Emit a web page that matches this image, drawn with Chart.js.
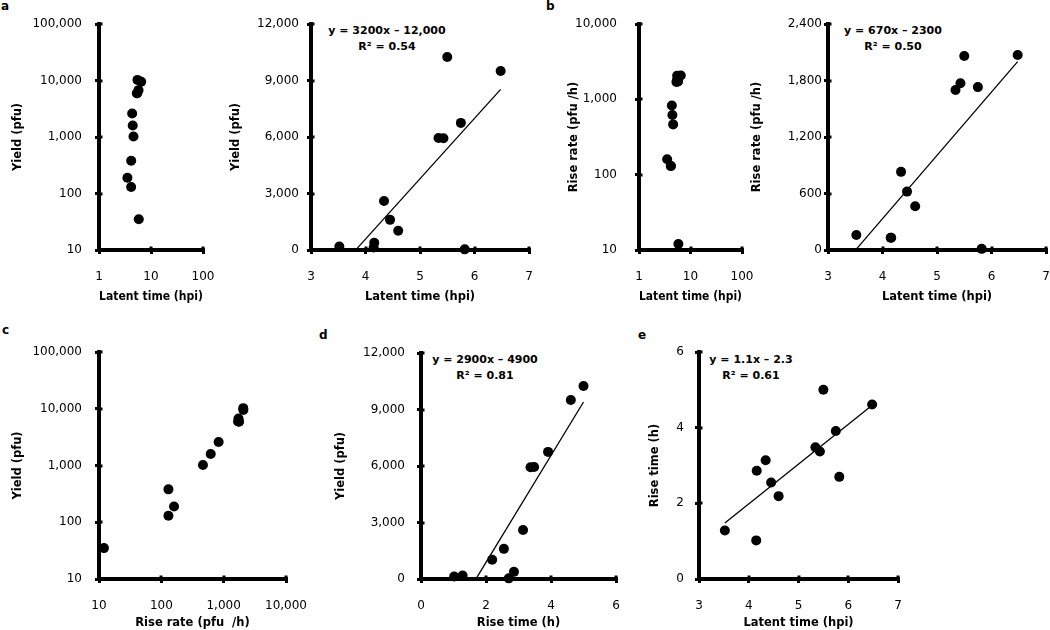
<!DOCTYPE html>
<html>
<head>
<meta charset="utf-8">
<script src="https://cdn.jsdelivr.net/npm/chart.js@4.4.0/dist/chart.umd.min.js"></script>
<style>
  body { margin: 0; width: 1050px; height: 630px; overflow: hidden; background: #fff; position: relative; font-family: 'DejaVu Sans', sans-serif; }
  canvas { position: absolute; }
  .lbl { position: absolute; font-weight: bold; font-size: 12px; line-height: 12px; }
  .eq { position: absolute; width: 160px; text-align: center; font-weight: bold; font-size: 11px; line-height: 16px; }
</style>
</head>
<body>

<div class="lbl" style="left:1px;top:0px">a</div>
<div class="lbl" style="left:546px;top:0px">b</div>
<div class="lbl" style="left:2px;top:324px">c</div>
<div class="lbl" style="left:319px;top:329px">d</div>
<div class="lbl" style="left:638px;top:329px">e</div>

<div class="eq" style="left:307px;top:23px">y = 3200x – 12,000<br>R² = 0.54</div>
<div class="eq" style="left:813px;top:23px">y = 670x – 2300<br>R² = 0.50</div>
<div class="eq" style="left:405px;top:352px">y = 2900x – 4900<br>R² = 0.81</div>
<div class="eq" style="left:671px;top:352px">y = 1.1x – 2.3<br>R² = 0.61</div>

<script>
// valeurs (12 souches)
const latentTime = [3.52, 4.15, 4.16, 4.34, 4.45, 4.60, 5.34, 5.43, 5.50, 5.75, 5.82, 6.48];
const yieldPfu   = [190, 130, 380, 2600, 1600, 1020, 5950, 5930, 10250, 6750, 35, 9500];
const riseRate   = [160, 130, 130, 830, 620, 465, 1700, 1770, 2060, 1730, 12, 2070];
const riseTime   = [1.28, 1.02, 2.86, 3.14, 2.55, 2.19, 3.48, 3.37, 5.00, 3.91, 2.70, 4.61];

// droites de tendance (extremites lues)
const fitYieldLatentX = [3.83, 6.48];
const fitYieldLatentY = [30, 8530];
const fitRateLatentX = [3.52, 6.48];
const fitRateLatentY = [10, 2000];
const fitYieldRiseX = [1.72, 5.0];
const fitYieldRiseY = [90, 9400];
const fitRiseLatentX = [3.52, 6.43];
const fitRiseLatentY = [1.48, 4.54];

// graduations
const logLatentTicks = [1, 10, 100];
const yieldLogTicks = [10, 100, 1000, 10000, 100000];
const rateLogTicks = [10, 100, 1000, 10000];
const latentTicks = [3, 4, 5, 6, 7];
const yieldTicks = [0, 3000, 6000, 9000, 12000];
const rateTicks = [0, 600, 1200, 1800, 2400];
const riseTimeTicks = [0, 2, 4, 6];

Chart.defaults.font.family = "'DejaVu Sans', sans-serif";
Chart.defaults.color = '#000';

function pts(xs, ys) {
  return xs.map((x, i) => ({ x: x, y: ys[i] }));
}

// petites marques qui depassent aussi vers l'interieur de l'axe
const innerTicks = {
  id: 'innerTicks',
  afterDraw(chart) {
    const ctx = chart.ctx;
    const a = chart.chartArea;
    ctx.save();
    ctx.strokeStyle = '#000';
    ctx.lineWidth = 3;
    ctx.beginPath();
    chart.scales.x.ticks.forEach(t => {
      const px = Math.round(chart.scales.x.getPixelForValue(t.value));
      ctx.moveTo(px, a.bottom);
      ctx.lineTo(px, a.bottom - 3.5);
    });
    chart.scales.y.ticks.forEach(t => {
      const py = Math.round(chart.scales.y.getPixelForValue(t.value));
      ctx.moveTo(a.left, py);
      ctx.lineTo(a.left + 3.5, py);
    });
    ctx.stroke();
    ctx.restore();
  }
};

function scaleOpts(vals, isLog, title, pad, size, horiz) {
  return {
    type: isLog ? 'logarithmic' : 'linear',
    min: vals[0],
    max: vals[vals.length - 1],
    afterBuildTicks: (s) => { s.ticks = vals.map(v => ({ value: v })); },
    afterFit: (s) => {
      if (horiz) s.height = size; else s.width = size;
      s.paddingLeft = 0; s.paddingRight = 0; s.paddingTop = 0; s.paddingBottom = 0;
    },
    border: { display: true, color: '#000', width: 4 },
    grid: { display: true, drawOnChartArea: false, drawTicks: true, tickLength: 4, lineWidth: 3, color: '#000' },
    ticks: {
      autoSkip: false, maxRotation: 0, padding: pad, color: '#000',
      font: { size: 12 },
      callback: (v) => Number(v).toLocaleString('en-US')
    },
    title: { display: true, text: title, color: '#000', font: { size: 11.5, weight: 'bold' }, padding: 0 }
  };
}

const panels = [
  { area: { l: 99, r: 203, t: 24, b: 250 }, yTitleX: 18, xH: 54, yPad: 13,
    x: { vals: logLatentTicks, log: true, data: latentTime, title: 'Latent time (hpi)' },
    y: { vals: yieldLogTicks, log: true, data: yieldPfu, title: 'Yield (pfu)' } },
  { area: { l: 311, r: 529, t: 24, b: 250 }, yTitleX: 236, xH: 54, yPad: 8,
    x: { vals: latentTicks, log: false, data: latentTime, title: 'Latent time (hpi)' },
    y: { vals: yieldTicks, log: false, data: yieldPfu, title: 'Yield (pfu)' },
    fit: [fitYieldLatentX, fitYieldLatentY] },
  { area: { l: 639, r: 742, t: 24, b: 250 }, yTitleX: 574, xH: 54, yPad: 18,
    x: { vals: logLatentTicks, log: true, data: latentTime, title: 'Latent time (hpi)' },
    y: { vals: rateLogTicks, log: true, data: riseRate, title: 'Rise rate (pfu /h)' } },
  { area: { l: 828, r: 1046, t: 24, b: 250 }, yTitleX: 757, xH: 54, yPad: 2,
    x: { vals: latentTicks, log: false, data: latentTime, title: 'Latent time (hpi)' },
    y: { vals: rateTicks, log: false, data: riseRate, title: 'Rise rate (pfu /h)' },
    fit: [fitRateLatentX, fitRateLatentY] },
  { area: { l: 99, r: 286, t: 352, b: 579 }, yTitleX: 18, xH: 51, yPad: 13,
    x: { vals: rateLogTicks, log: true, data: riseRate, title: 'Rise rate (pfu  /h)' },
    y: { vals: yieldLogTicks, log: true, data: yieldPfu, title: 'Yield (pfu)' } },
  { area: { l: 421, r: 616, t: 353, b: 579 }, yTitleX: 341, xH: 51, yPad: 12,
    x: { vals: riseTimeTicks, log: false, data: riseTime, title: 'Rise time (h)' },
    y: { vals: yieldTicks, log: false, data: yieldPfu, title: 'Yield (pfu)' },
    fit: [fitYieldRiseX, fitYieldRiseY] },
  { area: { l: 699, r: 898, t: 352, b: 579 }, yTitleX: 655, xH: 51, yPad: 11,
    x: { vals: latentTicks, log: false, data: latentTime, title: 'Latent time (hpi)' },
    y: { vals: riseTimeTicks, log: false, data: riseTime, title: 'Rise time (h)' },
    fit: [fitRiseLatentX, fitRiseLatentY] }
];

panels.forEach((p) => {
  const padTop = 12, padRight = 26;
  const left = p.yTitleX - 7;
  const top = p.area.t - padTop;
  const canvas = document.createElement('canvas');
  canvas.width = p.area.r + padRight - left;
  canvas.height = p.area.b + p.xH - top;
  canvas.style.left = left + 'px';
  canvas.style.top = top + 'px';
  document.body.appendChild(canvas);

  const datasets = [{
    data: pts(p.x.data, p.y.data),
    pointRadius: 5,
    pointBackgroundColor: '#000',
    pointBorderWidth: 0,
    clip: false
  }];
  if (p.fit) {
    datasets.push({
      data: pts(p.fit[0], p.fit[1]),
      showLine: true,
      pointRadius: 0,
      borderColor: '#000',
      borderWidth: 1.3,
      clip: false
    });
  }

  new Chart(canvas.getContext('2d'), {
    type: 'scatter',
    data: { datasets: datasets },
    options: {
      responsive: false,
      animation: false,
      events: [],
      layout: { padding: { top: padTop, right: padRight, left: 0, bottom: 0 } },
      plugins: { legend: { display: false }, tooltip: { enabled: false } },
      scales: {
        x: scaleOpts(p.x.vals, p.x.log, p.x.title, 16, p.xH, true),
        y: scaleOpts(p.y.vals, p.y.log, p.y.title, p.yPad, p.area.l - left, false)
      }
    },
    plugins: [innerTicks]
  });
});
</script>
</body>
</html>
